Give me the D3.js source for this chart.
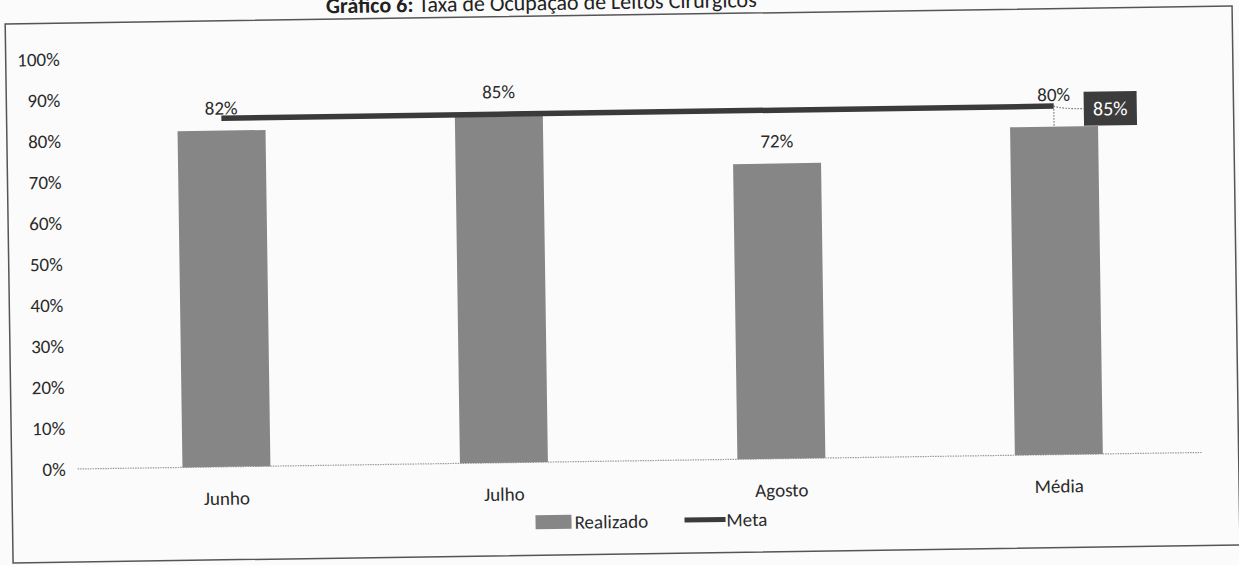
<!DOCTYPE html>
<html>
<head>
<meta charset="utf-8">
<script src="https://cdn.jsdelivr.net/npm/d3@7/dist/d3.min.js"></script>
<style>
  html, body { margin: 0; padding: 0; background: #fbfbfb; }
  svg { display: block; }
  text { font-family: Carlito, Lato, "Open Sans", sans-serif; }
</style>
</head>
<body>
<svg id="chart" width="1239" height="565"></svg>
<script>
// ---- data ----
const categories = ["Junho", "Julho", "Agosto", "Média"];
const realizado = [0.82, 0.85, 0.72, 0.80];
const meta = [0.85, 0.85, 0.85, 0.85];
const yTicks = [0, 0.1, 0.2, 0.3, 0.4, 0.5, 0.6, 0.7, 0.8, 0.9, 1.0];
const legendLabels = ["Realizado", "Meta"];
const titleBold = "Gráfico 6:";
const titleRest = " Taxa de Ocupação de Leitos Cirúrgicos";

// ---- layout ----
const W = 1239, H = 565;
const svg = d3.select("#chart");
svg.append("rect").attr("width", W).attr("height", H).attr("fill", "#fbfbfb");

// the scanned page is slightly tilted
const g = svg.append("g").attr("transform", "rotate(-0.84, 620, 280)");

// title (partly cut by the top of the scan, as in the reference)
const title = g.append("text").attr("x", 330).attr("y", 9)
  .attr("font-family", "Liberation Sans, Arial, sans-serif")
  .attr("font-size", 22).attr("fill", "#222");
title.append("tspan").attr("font-weight", "bold").text(titleBold);
title.append("tspan").text(titleRest);

// frame
g.append("rect").attr("x", 9).attr("y", 15).attr("width", 1227).attr("height", 539)
  .attr("fill", "none").attr("stroke", "#555").attr("stroke-width", 1.5);

const x = d3.scaleBand().domain(categories).range([85, 1195])
  .paddingInner(0.683).paddingOuter(0.3415);
const y = d3.scaleLinear().domain([0, 1]).range([461, 51]);
const bw = x.bandwidth();
const cx = c => x(c) + bw / 2;
const pct = d3.format(".0%");

// y axis
const yAxis = g.append("g").attr("transform", "translate(85,0)")
  .call(d3.axisLeft(y).tickValues(yTicks).tickFormat(pct).tickSize(0).tickPadding(22));
yAxis.select(".domain").remove();
yAxis.selectAll("text").attr("font-size", 19).attr("fill", "#2a2a2a")
  .attr("font-family", "Carlito, Lato, sans-serif");

// horizontal axis line
g.append("line").attr("x1", 75).attr("x2", 1200).attr("y1", y(0)).attr("y2", y(0))
  .attr("stroke", "#9a9a9a").attr("stroke-width", 1.2).attr("stroke-dasharray", "1.5,1");

// bars
g.selectAll("rect.bar").data(categories).join("rect").attr("class", "bar")
  .attr("x", c => x(c)).attr("width", bw)
  .attr("y", (c, i) => y(realizado[i]))
  .attr("height", (c, i) => y(0) - y(realizado[i]))
  .attr("fill", "#868686");

// meta line
const lineGen = d3.line().x((d, i) => cx(categories[i])).y(d => y(d));
g.append("path").datum(meta).attr("d", lineGen)
  .attr("fill", "none").attr("stroke", "#3a3a3a").attr("stroke-width", 5.5);

// leader lines near the last point
const last = categories.length - 1;
const lx = cx(categories[last]), ly = y(meta[last]);
g.append("line").attr("x1", lx).attr("x2", lx).attr("y1", ly).attr("y2", y(realizado[last]))
  .attr("stroke", "#777").attr("stroke-width", 1.2).attr("stroke-dasharray", "1.5,1.5");
g.append("path").attr("d", `M${lx},${ly} Q${lx + 8},${ly + 3} ${lx + 30},${ly + 3}`)
  .attr("fill", "none").attr("stroke", "#777").attr("stroke-width", 1.2).attr("stroke-dasharray", "1.5,1.5");

// meta label box
g.append("rect").attr("x", lx + 30).attr("y", ly - 14).attr("width", 53).attr("height", 34)
  .attr("fill", "#3c3c3c");
g.append("text").attr("x", lx + 56.5).attr("y", ly + 10).attr("text-anchor", "middle")
  .attr("font-size", 20).attr("fill", "#fff").text(pct(meta[last]));

// realizado labels
g.selectAll("text.vlab").data(categories).join("text").attr("class", "vlab")
  .attr("x", c => cx(c))
  .attr("y", (c, i) => i === last ? y(meta[i]) - 5 : y(realizado[i]) - 16)
  .attr("text-anchor", "middle").attr("font-size", 19).attr("fill", "#2a2a2a")
  .text((c, i) => pct(realizado[i]));

// category labels
g.selectAll("text.clab").data(categories).join("text").attr("class", "clab")
  .attr("x", c => cx(c)).attr("y", 499)
  .attr("text-anchor", "middle").attr("font-size", 19).attr("fill", "#2a2a2a")
  .text(c => c);

// legend
const leg = g.append("g");
leg.append("rect").attr("x", 532).attr("y", 514).attr("width", 36).attr("height", 14).attr("fill", "#868686");
leg.append("text").attr("x", 571).attr("y", 528).attr("font-size", 19).attr("fill", "#2a2a2a").text(legendLabels[0]);
leg.append("line").attr("x1", 681).attr("x2", 722).attr("y1", 521).attr("y2", 521)
  .attr("stroke", "#3a3a3a").attr("stroke-width", 5);
leg.append("text").attr("x", 723).attr("y", 528).attr("font-size", 19).attr("fill", "#2a2a2a").text(legendLabels[1]);
</script>
</body>
</html>
